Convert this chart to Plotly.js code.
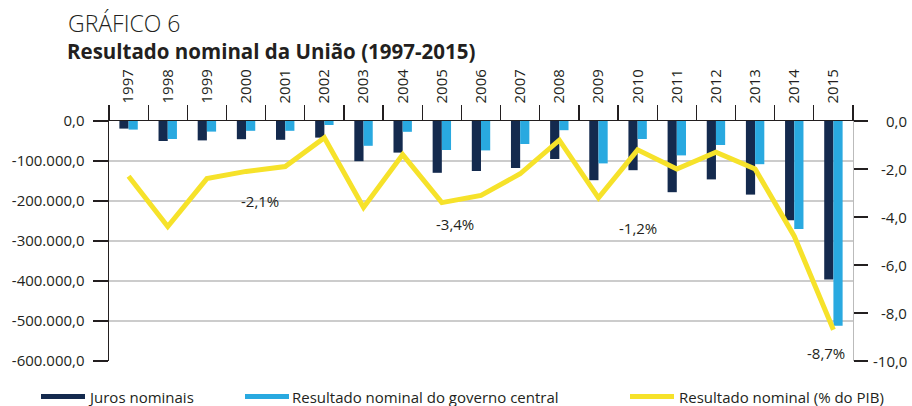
<!DOCTYPE html>
<html>
<head>
<meta charset="utf-8">
<script src="https://cdn.plot.ly/plotly-3.0.1.min.js"></script>
<style>
  html, body { margin: 0; padding: 0; background: #ffffff; }
  #chart { width: 912px; height: 406px; }
</style>
</head>
<body>
<div id="chart"></div>
<script>
// ---- Data ----
const years = ['1997','1998','1999','2000','2001','2002','2003','2004','2005','2006',
               '2007','2008','2009','2010','2011','2012','2013','2014','2015'];
const jurosNominais = [-19000, -50000, -48500, -45500, -47000, -41500, -100500, -79000, -129500, -125000,
                       -117500, -95000, -148000, -123000, -178000, -146000, -184000, -248000, -396000];
const resultadoGoverno = [-21500, -45000, -26500, -24500, -24500, -10000, -62000, -27000, -72500, -73500,
                          -57500, -23000, -106000, -45000, -86000, -60000, -108000, -270000, -512000];
const resultadoPIB = [-2.3, -4.4, -2.4, -2.1, -1.9, -0.7, -3.6, -1.4, -3.4, -3.1,
                      -2.2, -0.8, -3.2, -1.2, -2.0, -1.3, -2.0, -4.8, -8.7];

const leftTickVals = [0, -100000, -200000, -300000, -400000, -500000, -600000];
const leftTickText = ['0,0', '-100.000,0', '-200.000,0', '-300.000,0', '-400.000,0', '-500.000,0', '-600.000,0'];
const rightTickVals = [0, -2, -4, -6, -8, -10];
const rightTickText = ['0,0', '-2,0', '-4,0', '-6,0', '-8,0', '-10,0'];

const seriesNames = ['Juros nominais', 'Resultado nominal do governo central', 'Resultado nominal (% do PIB)'];
const labelledYears = ['2000', '2005', '2010', '2015'];

const chartTitle = 'GRÁFICO 6';
const chartSubtitle = 'Resultado nominal da União (1997-2015)';

// ---- Styles ----
const colDark = '#142a4e';
const colBlue = '#29a9e0';
const colYellow = '#f6e22a';
const txt = '#231f20';
const FONT = '"Open Sans", "DejaVu Sans", sans-serif';

const W = 912, H = 406;
const M = {l: 109, r: 59, t: 121, b: 45};
const PW = W - M.l - M.r, PH = H - M.t - M.b;
const px2x = x => (x - M.l) / PW;
const px2y = y => (H - M.b - y) / PH;

const fmtPct = v => v.toFixed(1).replace('.', ',') + '%';

const traces = [
  {
    type: 'bar', x: years, y: jurosNominais, name: seriesNames[0],
    marker: {color: colDark}, xaxis: 'x', yaxis: 'y', showlegend: false,
    hoverinfo: 'x+y'
  },
  {
    type: 'bar', x: years, y: resultadoGoverno, name: seriesNames[1],
    marker: {color: colBlue}, xaxis: 'x', yaxis: 'y', showlegend: false,
    hoverinfo: 'x+y'
  },
  {
    type: 'scatter', mode: 'lines', x: years, y: resultadoPIB, name: seriesNames[2],
    line: {color: colYellow, width: 5}, xaxis: 'x', yaxis: 'y2', showlegend: false,
    hoverinfo: 'x+y'
  }
];

const annotations = [];
// Titles
annotations.push({
  xref: 'paper', yref: 'paper', x: px2x(66), y: px2y(23), xanchor: 'left', yanchor: 'middle',
  text: chartTitle, showarrow: false, font: {family: FONT, size: 23, color: txt, weight: 300}
});
annotations.push({
  xref: 'paper', yref: 'paper', x: px2x(65), y: px2y(51), xanchor: 'left', yanchor: 'middle',
  text: '<b>' + chartSubtitle + '</b>', showarrow: false, font: {family: FONT, size: 20.5, color: txt}
});
// Right axis tick labels (right-aligned)
rightTickVals.forEach((v, i) => {
  annotations.push({
    xref: 'paper', yref: 'y2', x: px2x(909), y: v, xanchor: 'right', yanchor: 'middle',
    text: rightTickText[i], showarrow: false, font: {family: FONT, size: 15, color: txt}
  });
});
// Percent labels (x given as category index)
const pctShift = {'2000': [14, -30], '2005': [13, -21], '2010': [0, -78], '2015': [-7, -23]};
labelledYears.forEach(yr => {
  const i = years.indexOf(yr);
  annotations.push({
    xref: 'x', yref: 'y2', x: i, y: resultadoPIB[i], xanchor: 'center', yanchor: 'middle',
    xshift: pctShift[yr][0], yshift: pctShift[yr][1],
    text: fmtPct(resultadoPIB[i]), showarrow: false, font: {family: FONT, size: 15, color: txt}
  });
});
// Legend
const legendItems = [
  {x0: 41, x1: 85, tx: 86, color: colDark},
  {x0: 245, x1: 289, tx: 290, color: colBlue},
  {x0: 630, x1: 674, tx: 677, color: colYellow}
];
const shapes = [];
legendItems.forEach((it, i) => {
  shapes.push({
    type: 'line', xref: 'paper', yref: 'paper',
    x0: px2x(it.x0), x1: px2x(it.x1), y0: px2y(396.5), y1: px2y(396.5),
    line: {color: it.color, width: 5}
  });
  annotations.push({
    xref: 'paper', yref: 'paper', x: px2x(it.tx), y: px2y(397), xanchor: 'left', yanchor: 'middle',
    text: seriesNames[i], showarrow: false, font: {family: FONT, size: 15, color: txt}
  });
});

const layout = {
  width: W, height: H,
  margin: M,
  paper_bgcolor: '#ffffff', plot_bgcolor: '#ffffff',
  font: {family: FONT, size: 15, color: txt},
  barmode: 'group', bargap: 0.53, bargroupgap: 0,
  showlegend: false,
  xaxis: {
    type: 'category', side: 'top', categoryorder: 'array', categoryarray: years,
    range: [-0.5, years.length - 0.5], autorange: false,
    showline: true, linecolor: '#231f20', linewidth: 1.5,
    ticks: 'outside', tickson: 'boundaries', ticklen: 15, tickwidth: 1.3, tickcolor: '#231f20',
    tickangle: -90, tickfont: {family: FONT, size: 15, color: txt},
    ticklabelstandoff: 13,
    showgrid: false, zeroline: false, fixedrange: true
  },
  yaxis: {
    range: [-600000, 0], tickvals: leftTickVals, ticktext: leftTickText,
    showline: true, linecolor: '#231f20', linewidth: 1.5,
    ticks: 'outside', ticklen: 15, tickwidth: 1.3, tickcolor: '#231f20',
    ticklabelstandoff: 5,
    showgrid: true, gridcolor: '#cccccc', gridwidth: 1.3,
    zeroline: false, tickfont: {family: FONT, size: 15, color: txt}, fixedrange: true
  },
  yaxis2: {
    overlaying: 'y', side: 'right', range: [-10, 0], tickvals: rightTickVals,
    showline: true, linecolor: '#bbbbbb', linewidth: 1.3,
    ticks: 'outside', ticklen: 14, tickwidth: 1.3, tickcolor: '#231f20',
    showticklabels: false, showgrid: false, zeroline: false, fixedrange: true
  },
  annotations: annotations,
  shapes: shapes
};

Plotly.newPlot('chart', traces, layout, {displayModeBar: false, staticPlot: true});
</script>
</body>
</html>
